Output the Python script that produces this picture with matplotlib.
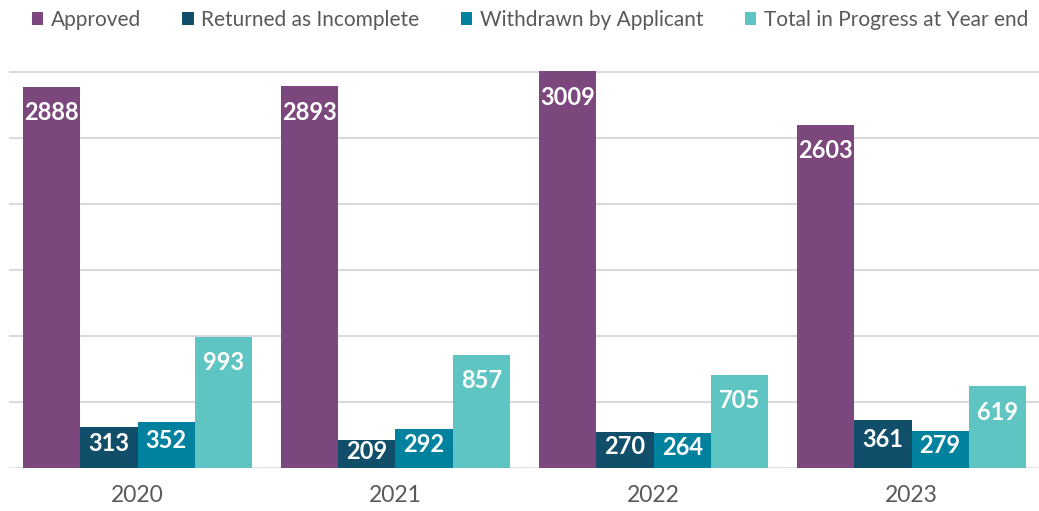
import matplotlib
matplotlib.use('Agg')
import matplotlib.pyplot as plt
from matplotlib.patches import Patch
import numpy as np

plt.rcParams['font.family'] = ['Lato', 'DejaVu Sans']

# Data
years = ['2020', '2021', '2022', '2023']
series_names = ['Approved', 'Returned as Incomplete', 'Withdrawn by Applicant',
                'Total in Progress at Year end']
approved = [2888, 2893, 3009, 2603]
returned = [313, 209, 270, 361]
withdrawn = [352, 292, 264, 279]
in_progress = [993, 857, 705, 619]

colors = ['#7B477C', '#114E69', '#00829F', '#5FC5C2']
text_grey = '#595959'
grid_grey = '#D9D9D9'

W, H = 1039, 511
fig = plt.figure(figsize=(W / 100, H / 100), dpi=100)
ax = fig.add_axes([8.5 / W, 43 / H, 1032 / W, 397 / H])

series = [approved, returned, withdrawn, in_progress]
x = np.arange(len(years))
bar_w = 0.2219
ymax = 3009
ax.set_ylim(0, ymax)
ax.set_xlim(-0.5, len(years) - 0.5)

# one pixel in data units
px = ymax / 397.0

for i, vals in enumerate(series):
    pos = x + (i - 1.5) * bar_w
    ax.bar(pos, vals, width=bar_w, color=colors[i], zorder=3)
    for xp, v in zip(pos, vals):
        off = min(26 * px, 0.4 * v)
        ax.text(xp, v - off, str(v), ha='center', va='center',
                color='white', fontsize=17, fontweight='bold', zorder=4)

# gridlines
for gy in range(500, 3001, 500):
    ax.axhline(gy, color=grid_grey, lw=1.5, zorder=1)
ax.axhline(0, color=grid_grey, lw=1.8, zorder=2)

for s in ax.spines.values():
    s.set_visible(False)
ax.set_yticks([])
ax.set_xticks(x)
ax.set_xticklabels(years, fontsize=16.5, color=text_grey)
ax.tick_params(axis='x', length=0, pad=12)

handles = [Patch(facecolor=c, edgecolor='none') for c in colors]
fig.legend(handles, series_names, loc='center', bbox_to_anchor=(0.510, 1 - 20 / H),
           ncol=4, frameon=False, fontsize=15, labelcolor=text_grey,
           handlelength=0.55, handleheight=0.55, handletextpad=0.35,
           columnspacing=2.0)

fig.savefig('out.png', dpi=100)
